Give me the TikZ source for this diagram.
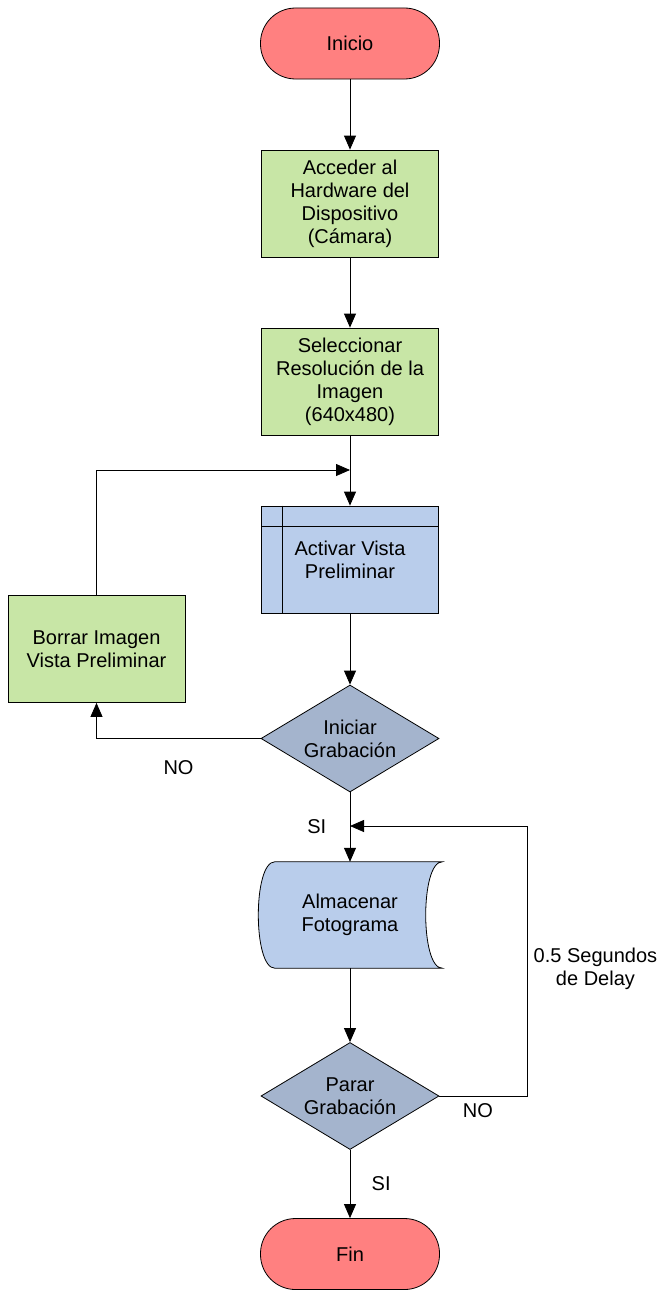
\documentclass[tikz,border=0pt]{standalone}
\usepackage{fontspec}
\setmainfont{Liberation Sans}
\usetikzlibrary{arrows.meta,shapes.geometric,backgrounds}
\definecolor{rojoterm}{RGB}{255,128,128}
\definecolor{verdeproc}{RGB}{200,230,166}
\definecolor{azulproc}{RGB}{185,205,235}
\definecolor{azuldec}{RGB}{164,180,205}

\begin{document}
\begin{tikzpicture}[x=1pt,y=1pt,line join=miter,>={Triangle[length=14pt,width=12pt]},
	every node/.style={font=\fontsize{20}{23}\selectfont},
	terminal/.style={draw=black,fill=rojoterm,rectangle,rounded corners=35pt,minimum width=179pt,minimum height=71pt,line width=0.8pt},
	proceso/.style={draw=black,fill=verdeproc,rectangle,minimum width=177pt,minimum height=107pt,align=center,line width=0.8pt},
	subproc/.style={proceso,fill=azulproc},
	almacen/.style={rectangle,inner sep=0pt,minimum width=184pt,minimum height=106pt,align=center},
	decision/.style={draw=black,fill=azuldec,diamond,inner sep=0pt,minimum width=178pt,minimum height=107pt,line width=0.8pt},
	flecha/.style={->,line width=0.8pt}]
		\useasboundingbox (0,0) rectangle (657,-1290);
		\node[terminal] (inicio) at (350,-43.5) {Inicio};
		\node[proceso] (acceder) at (350,-203.5) {Acceder al\\Hardware del\\Dispositivo\\(Cámara)};
		\node[proceso] (resolucion) at (350,-381.5) {Seleccionar\\Resolución de la\\Imagen\\(640x480)};
		\node[subproc] (activar) at (350,-559.5) {Activar Vista\\Preliminar};
		\draw [line width=0.8pt] ([xshift=21pt]activar.north west) -- ([xshift=21pt]activar.south west);
		\draw [line width=0.8pt] ([yshift=-21pt]activar.north west) -- ([yshift=-21pt]activar.north east);
		\node[proceso] (borrar) at (96.5,-649) {Borrar Imagen\\Vista Preliminar};
		\node[decision,label={[align=center]center:Iniciar\\Grabación}] (iniciar) at (350,-738.5) {};
		\node[almacen] (almacenar) at (350,-915) {Almacenar\\Fotograma};
		\begin{pgfonlayer}{background}
		\draw [fill=azulproc,line width=0.8pt] ([xshift=17pt]almacenar.north west) -- (almacenar.north east)
			.. controls ([xshift=-22pt]almacenar.north east) and ([xshift=-22pt]almacenar.south east) .. (almacenar.south east)
			-- ([xshift=17pt]almacenar.south west)
			.. controls ([xshift=-5pt]almacenar.south west) and ([xshift=-5pt]almacenar.north west) .. ([xshift=17pt]almacenar.north west) -- cycle;
		\end{pgfonlayer}
		\node[decision,label={[align=center]center:Parar\\Grabación}] (parar) at (350,-1096) {};
		\node[terminal] (fin) at (350,-1254) {Fin};
		\coordinate (juntaA) at (350,-470);
		\coordinate (juntaB) at (350,-826);
		\coordinate (retorno) at (527,-826);
		\draw [flecha] (inicio) -- (acceder);
		\draw [flecha] (acceder) -- (resolucion);
		\draw [flecha] (resolucion) -- (activar);
		\draw [flecha] (activar) -- (iniciar);
		\draw [flecha] (iniciar.west) -| node[pos=0.25,below=18pt] {NO} (borrar.south);
		\draw [flecha] (borrar.north) |- (juntaA);
		\draw [flecha] (iniciar.south) -- node[left=20pt] {SI} (almacenar.north);
		\draw [flecha] (almacenar.south) -- (parar.north);
		\draw [flecha] (parar.east) -| node[pos=0.22,below=4pt] {NO} node[pos=0.735,right=3pt,align=center] {0.5 Segundos\\de Delay} (retorno) -- (juntaB);
		\draw [flecha] (parar.south) -- node[right=18pt] {SI} (fin.north);
\end{tikzpicture}
\end{document}
